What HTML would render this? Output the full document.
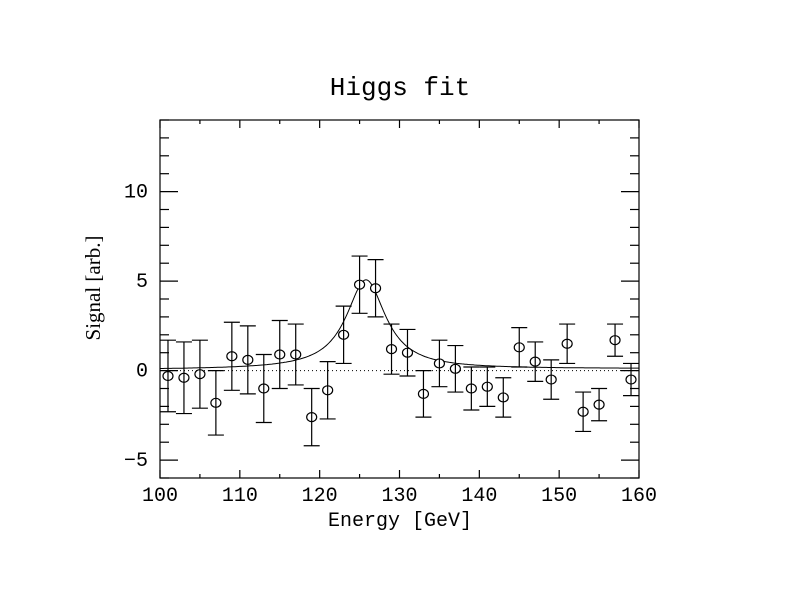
<!DOCTYPE html>
<html><head><meta charset="utf-8"><style>body{margin:0;background:#fff}svg{display:block}</style></head>
<body>
<svg id="c" width="800" height="600" xmlns="http://www.w3.org/2000/svg"></svg>
<script>
const energies=[101,103,105,107,109,111,113,115,117,119,121,123,125,127,129,131,133,135,137,139,141,143,145,147,149,151,153,155,157,159];
const signals=[-0.3,-0.4,-0.2,-1.8,0.8,0.6,-1.0,0.9,0.9,-2.6,-1.1,2.0,4.8,4.6,1.2,1.0,-1.3,0.4,0.1,-1.0,-0.9,-1.5,1.3,0.5,-0.5,1.5,-2.3,-1.9,1.7,-0.5];
const errors=[2.0,2.0,1.9,1.8,1.9,1.9,1.9,1.9,1.7,1.6,1.6,1.6,1.6,1.6,1.4,1.3,1.3,1.3,1.3,1.2,1.1,1.1,1.1,1.1,1.1,1.1,1.1,0.9,0.9,0.9];
const fitParams=[5.0,125.8,3.0,0.05,0.1]; // amplitude, mass, width, bg at 100, bg at 160
const xTicks=[100,110,120,130,140,150,160];
const yTicks=[-5,0,5,10];
const NS='http://www.w3.org/2000/svg';
const svg=document.getElementById('c');
const L=160,R=639,T=120,B=478,xmin=100,xmax=160,ymin=-6,ymax=14;
const X=v=>L+(v-xmin)/(xmax-xmin)*(R-L);
const Y=v=>B-(v-ymin)/(ymax-ymin)*(B-T);
function el(t,a,p){const e=document.createElementNS(NS,t);for(const k in a)e.setAttribute(k,a[k]);(p||svg).appendChild(e);return e;}
const st={stroke:'#000','stroke-width':1.2,fill:'none'};
const frame=el('rect',Object.assign({x:L,y:T,width:R-L,height:B-T},st));


for(let v=xmin;v<=xmax;v+=5){const maj=v%10===0,len=maj?8:4;
 el('line',Object.assign({x1:X(v),x2:X(v),y1:B,y2:B-len},st));
 el('line',Object.assign({x1:X(v),x2:X(v),y1:T,y2:T+len},st));}
for(let v=ymin;v<=ymax;v+=1){const maj=v%5===0,len=maj?18:9;
 el('line',Object.assign({x1:L,x2:L+len,y1:Y(v),y2:Y(v)},st));
 el('line',Object.assign({x1:R,x2:R-len,y1:Y(v),y2:Y(v)},st));}
const font='"Liberation Mono", monospace';
xTicks.forEach(v=>{const t=el('text',{x:X(v),y:B+23,'text-anchor':'middle','font-family':font,'font-size':20});t.textContent=v;
 });
yTicks.forEach(v=>{const t=el('text',{x:L-12,y:Y(v)+6,'text-anchor':'end','font-family':font,'font-size':20});t.textContent=(v<0?'\u2212'+(-v):v);
 });
const z=el('line',{x1:L,x2:R,y1:Y(0),y2:Y(0),stroke:'#000','stroke-width':1,'stroke-dasharray':'1,3'});

let d='';for(let i=0;i<=300;i++){const x=xmin+i*(xmax-xmin)/300;const [A,m,g,b0,b1]=fitParams;
 const y=A/(1+((x-m)/g)**2)+b0+(b1-b0)*(x-xmin)/(xmax-xmin);d+=(i?'L':'M')+X(x).toFixed(1)+','+Y(y).toFixed(1);}
const fc=el('path',{d:d,stroke:'#000','stroke-width':1,fill:'none'});

energies.forEach((e,i)=>{const g=el('g',{});
 
 const x=X(e),y=Y(signals[i]),y1=Y(signals[i]+errors[i]),y2=Y(signals[i]-errors[i]);
 el('line',Object.assign({x1:x,x2:x,y1:y1,y2:y2},st),g);
 el('line',Object.assign({x1:x-8,x2:x+8,y1:y1,y2:y1},st),g);
 el('line',Object.assign({x1:x-8,x2:x+8,y1:y2,y2:y2},st),g);
 el('ellipse',{cx:x,cy:y,rx:5,ry:4.5,stroke:'#000','stroke-width':1.2,fill:'#fff'},g);
 el('line',Object.assign({x1:x,x2:x,y1:y-4.5,y2:y+4.5},st),g);});
const tt=el('text',{x:400,y:95,'text-anchor':'middle','font-family':font,'font-size':26});tt.textContent='Higgs fit';

const xt=el('text',{x:400,y:526,'text-anchor':'middle','font-family':font,'font-size':20});xt.textContent='Energy [GeV]';

const yt=el('text',{x:0,y:0,'text-anchor':'middle','font-family':'"Liberation Serif", serif','font-size':21,transform:'translate(100,288) rotate(-90)'});yt.textContent='Signal [arb.]';

</script>
</body></html>
